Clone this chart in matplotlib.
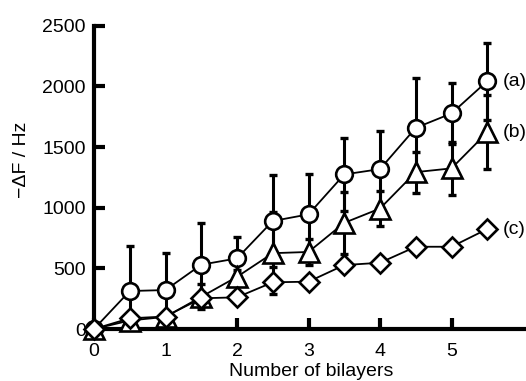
import numpy as np
import matplotlib
matplotlib.use("Agg")
import matplotlib.pyplot as plt

plt.rcParams['font.family'] = ['Liberation Sans', 'DejaVu Sans']

x = [0, 0.5, 1, 1.5, 2, 2.5, 3, 3.5, 4, 4.5, 5, 5.5]
a_val = [0, 313, 321, 530, 582, 890, 945, 1274, 1318, 1658, 1777, 2043]
a_err = [0, 373, 308, 343, 173, 378, 333, 302, 315, 407, 250, 318]
b_val = [0, 70, 100, 265, 430, 625, 635, 875, 993, 1293, 1324, 1621]
b_err = [0, 30, 30, 103, 60, 339, 110, 257, 144, 170, 220, 305]
c_val = [0, 88, 103, 253, 261, 385, 390, 527, 546, 678, 678, 824]
series_labels = ['(a)', '(b)', '(c)']
xticks = [0, 1, 2, 3, 4, 5]
yticks = [0, 500, 1000, 1500, 2000, 2500]

W, H = 526, 381
FS = 14
fig = plt.figure(figsize=(W / 100, H / 100), dpi=100)
ax = fig.add_axes([94 / W, (H - 329) / H, 432 / W, 303.3 / H])
ax.set_xlim(0, 432 / 71.5)
ax.set_ylim(0, 2500)

def lower(vals, errs):
    return [min(e, v) for v, e in zip(vals, errs)]

eb_kw = dict(fmt='none', ecolor='black', elinewidth=2.2, capsize=2.8, capthick=2.4,
             zorder=2, clip_on=False)
ax.errorbar(x, a_val, yerr=[lower(a_val, a_err), a_err], **eb_kw)
ax.errorbar(x, b_val, yerr=[lower(b_val, b_err), b_err], **eb_kw)

ln_kw = dict(color='black', lw=1.3, mfc='white', mec='black', mew=1.9, clip_on=False)
ax.plot(x, a_val, marker='o', ms=12, zorder=3, **ln_kw)
ax.plot(x, b_val, marker='^', ms=14, zorder=4, **ln_kw)
ax.plot(x, c_val, marker='D', ms=10.5, zorder=5, **ln_kw)

for lab, vals in zip(series_labels, [a_val, b_val, c_val]):
    ax.annotate(lab, (x[-1], vals[-1]), xytext=(11, 0), textcoords='offset points',
                ha='left', va='center', fontsize=FS, annotation_clip=False)

for s in ['top', 'right']:
    ax.spines[s].set_visible(False)
for s in ['left', 'bottom']:
    ax.spines[s].set_linewidth(3)
ax.set_xticks(xticks)
ax.set_yticks(yticks)
ax.tick_params(axis='both', direction='in', length=8, width=3, labelsize=FS)
ax.tick_params(axis='y', pad=6)
ax.tick_params(axis='x', pad=10)

fig.text(311 / W, (H - 376) / H, 'Number of bilayers', ha='center', va='baseline',
         fontsize=FS)
fig.text(22 / W, 1 - 160 / H, '\u2212\u0394F / Hz', rotation=90, ha='center', va='center',
         fontsize=FS)

fig.savefig('out.png', dpi=100)
